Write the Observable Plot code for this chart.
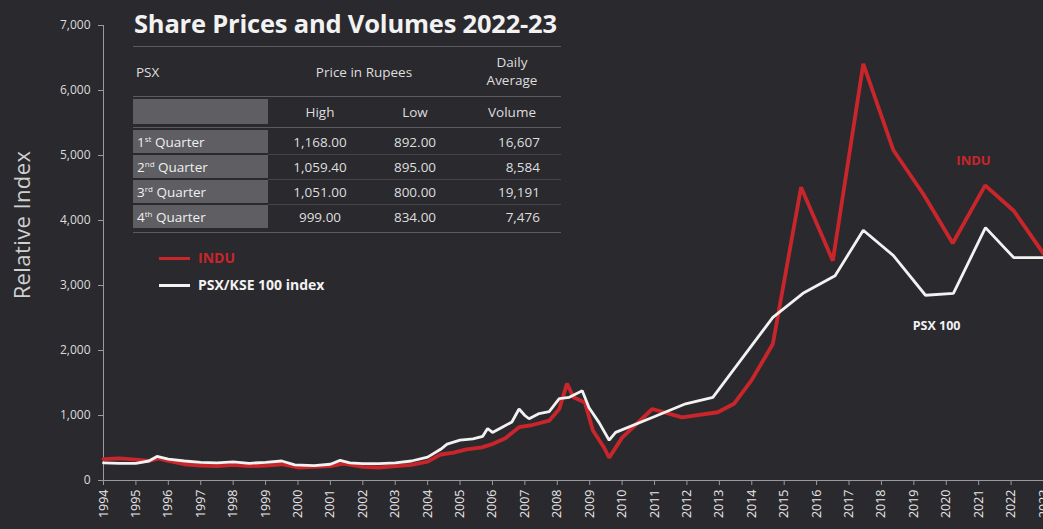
<!DOCTYPE html>
<html>
<head>
<meta charset="utf-8">
<script src="https://cdn.jsdelivr.net/npm/d3@7"></script>
<script src="https://cdn.jsdelivr.net/npm/@observablehq/plot@0.6"></script>
<style>
  html, body { margin: 0; padding: 0; background: #2a292e; }
  #wrap { position: relative; width: 1043px; height: 529px; overflow: hidden; font-family: "Open Sans", sans-serif; }
  #overlay { position: absolute; left: 0; top: 0; width: 1043px; height: 529px; pointer-events: none; color: #dedede; }
  .abs { position: absolute; white-space: nowrap; }
  .hline { position: absolute; height: 1px; background: #5a5a60; }
  .box { position: absolute; background: #5e5e63; }
  .cell { position: absolute; font-size: 13.5px; line-height: 16px; white-space: nowrap; }
  sup { font-size: 8px; line-height: 0; vertical-align: 5px; }
</style>
</head>
<body>
<div id="wrap">
  <div id="chart"></div>
  <div id="overlay"></div>
</div>
<script>
// ---- chart data ----
const psxYears  = [1994, 1994.5, 1995, 1995.4, 1995.65, 1996, 1996.5, 1997, 1997.5, 1998, 1998.5, 1999, 1999.5, 1999.9, 2000.5, 2001, 2001.3, 2001.6, 2002, 2002.5, 2003, 2003.5, 2004, 2004.4, 2004.6, 2005, 2005.4, 2005.7, 2005.85, 2006, 2006.3, 2006.6, 2006.82, 2007, 2007.13, 2007.44, 2007.75, 2008.06, 2008.37, 2008.77, 2008.98, 2009.29, 2009.6, 2009.8, 2010.93, 2011.96, 2012.8, 2014.65, 2015.58, 2016.57, 2017.44, 2018.37, 2019.36, 2020.22, 2021.21, 2022.08, 2023];
const psxValues = [270, 265, 265, 300, 370, 330, 300, 280, 270, 285, 265, 280, 300, 240, 230, 250, 310, 270, 260, 260, 270, 300, 360, 480, 560, 620, 640, 680, 800, 740, 820, 900, 1100, 1000, 950, 1030, 1060, 1260, 1280, 1380, 1120, 890, 620, 740, 970, 1180, 1280, 2510, 2880, 3150, 3850, 3460, 2850, 2880, 3890, 3430, 3430];

const induYears  = [1994, 1994.5, 1995, 1995.4, 1995.7, 1996, 1996.5, 1997, 1997.5, 1998, 1998.5, 1999, 1999.5, 2000, 2000.5, 2001, 2001.4, 2002, 2002.5, 2003, 2003.5, 2004, 2004.4, 2004.8, 2005.2, 2005.67, 2006, 2006.4, 2006.82, 2007.2, 2007.75, 2008.06, 2008.3, 2008.5, 2008.85, 2009.1, 2009.45, 2009.6, 2010, 2010.93, 2011.85, 2012.95, 2013.45, 2013.99, 2014.65, 2015.52, 2016.5, 2017.44, 2018.37, 2019.3, 2020.2, 2021.2, 2022.08, 2023];
const induValues = [330, 340, 320, 300, 340, 300, 250, 230, 220, 240, 220, 230, 250, 200, 210, 220, 260, 210, 200, 220, 240, 290, 400, 430, 480, 510, 560, 650, 820, 850, 920, 1100, 1490, 1280, 1200, 770, 500, 350, 660, 1100, 970, 1050, 1180, 1540, 2100, 4510, 3380, 6410, 5080, 4400, 3650, 4540, 4150, 3490];

const xTicks = d3.range(1994, 2024);
const yTicks = [0, 1000, 2000, 3000, 4000, 5000, 6000, 7000];

// ---- table data ----
const quarterNums = ["1", "2", "3", "4"];
const quarterSups = ["st", "nd", "rd", "th"];
const highs   = ["1,168.00", "1,059.40", "1,051.00", "999.00"];
const lows    = ["892.00", "895.00", "800.00", "834.00"];
const volumes = ["16,607", "8,584", "19,191", "7,476"];

const seriesNames = ["INDU", "PSX/KSE 100 index"];
const seriesColors = ["#c9262c", "#f2f2f2"];

const psx = psxYears.map((y, i) => ({year: y, value: psxValues[i]}));
const indu = induYears.map((y, i) => ({year: y, value: induValues[i]}));

const chart = Plot.plot({
  width: 1043,
  height: 529,
  marginLeft: 103,
  marginRight: 0,
  marginTop: 25,
  marginBottom: 49,
  style: {background: "#2a292e", color: "#dcdcdc", fontFamily: "Open Sans, sans-serif", fontSize: "12px"},
  x: {domain: [1994, 2023]},
  y: {domain: [0, 7000]},
  marks: [
    Plot.ruleY([0], {stroke: "#9a9a9e", strokeWidth: 1}),
    Plot.ruleX([1994], {stroke: "#9a9a9e", strokeWidth: 1}),
    Plot.axisX({ticks: xTicks, tickFormat: d => String(d), tickRotate: -90, tickSize: 5, tickPadding: 4, label: null, stroke: "#9a9a9e", fill: "#e6e6e6", fontSize: 12.5}),
    Plot.axisY({ticks: yTicks, tickFormat: d3.format(","), tickSize: 5, tickPadding: 8, label: null, stroke: "#9a9a9e", fill: "#dcdcdc", fontSize: 12}),
    Plot.line(indu, {x: "year", y: "value", stroke: seriesColors[0], strokeWidth: 3.8, strokeLinejoin: "miter"}),
    Plot.line(psx, {x: "year", y: "value", stroke: seriesColors[1], strokeWidth: 2.8, strokeLinejoin: "miter"}),
    Plot.text([{year: 2020.84, value: 4920, t: "INDU"}], {x: "year", y: "value", text: "t", fill: seriesColors[0], fontSize: 13, fontWeight: "bold"}),
    Plot.text([{year: 2019.7, value: 2370, t: "PSX 100"}], {x: "year", y: "value", text: "t", fill: "#f2f2f2", fontSize: 12.5, fontWeight: "bold"})
  ]
});
document.getElementById("chart").appendChild(chart);

// ---- table / title / legend overlay ----
const ov = document.getElementById("overlay");
function add(cls, style, html) {
  const el = document.createElement("div");
  el.className = cls;
  Object.assign(el.style, style);
  if (html != null) el.innerHTML = html;
  ov.appendChild(el);
  return el;
}
// y-axis title
add("abs", {left: "21px", top: "225px", width: "0px", height: "0px"}, "")
  .appendChild(Object.assign(document.createElement("div"), {textContent: "Relative Index"}));
{
  const holder = ov.lastChild;
  const t = holder.firstChild;
  Object.assign(t.style, {position: "absolute", left: "0", top: "0", transform: "translate(-50%, -50%) rotate(-90deg)", fontSize: "22px", letterSpacing: "0.4px", color: "#d0d0d0", whiteSpace: "nowrap", lineHeight: "24px"});
}
add("abs", {left: "134px", top: "6px", fontSize: "25.5px", fontWeight: "bold", color: "#f2f2f2", letterSpacing: "-0.2px"}, "Share Prices and Volumes 2022-23");
add("hline", {left: "133px", top: "46px", width: "428px"});
add("cell", {left: "136px", top: "64px"}, "PSX");
add("cell", {left: "268px", top: "64px", width: "192px", textAlign: "center"}, "Price in Rupees");
add("cell", {left: "466px", top: "53px", width: "92px", textAlign: "center", lineHeight: "18px"}, "Daily<br>Average");
add("hline", {left: "133px", top: "96px", width: "428px"});
add("box", {left: "133px", top: "99px", width: "135px", height: "25px"});
add("cell", {left: "268px", top: "104px", width: "104px", textAlign: "center"}, "High");
add("cell", {left: "370px", top: "104px", width: "90px", textAlign: "center"}, "Low");
add("cell", {left: "466px", top: "104px", width: "92px", textAlign: "center"}, "Volume");
add("hline", {left: "133px", top: "127px", width: "428px"});
quarterNums.forEach((q, i) => {
  const top = 130 + i * 25;
  add("box", {left: "133px", top: top + "px", width: "135px", height: "23px"});
  add("cell", {left: "137px", top: (top + 4) + "px", color: "#f0f0f0"}, `${q}<sup>${quarterSups[i]}</sup> Quarter`);
  add("cell", {left: "268px", top: (top + 4) + "px", width: "104px", textAlign: "center"}, highs[i]);
  add("cell", {left: "370px", top: (top + 4) + "px", width: "90px", textAlign: "center"}, lows[i]);
  add("cell", {left: "470px", top: (top + 4) + "px", width: "70px", textAlign: "right"}, volumes[i]);
  if (i < 3) add("hline", {left: "268px", top: (top + 24) + "px", width: "293px", background: "#444449"});
});
add("hline", {left: "133px", top: "232px", width: "428px"});
// legend
seriesNames.forEach((n, i) => {
  const y = 258 + i * 27;
  add("abs", {left: "159px", top: (y - 1) + "px", width: "31px", height: "3px", background: seriesColors[i]});
  add("abs", {left: "198px", top: (y - 10) + "px", fontSize: "14px", fontWeight: "bold", color: seriesColors[i]}, n);
});
</script>
</body>
</html>
